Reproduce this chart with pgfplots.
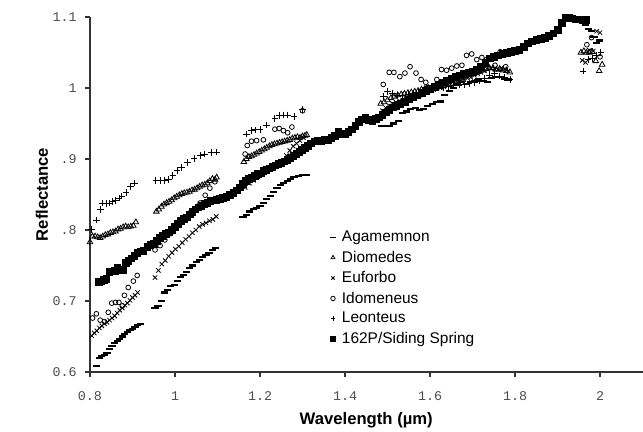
\documentclass[border=0pt]{standalone}
\usepackage{fontspec}
\setmainfont{Liberation Sans}
\newfontfamily\monofont{Liberation Mono}
\usepackage{pgfplots}
\pgfplotsset{compat=1.18}
\pgfplotsset{dashlegend/.style={legend image code/.code={\draw[##1, mark size=2.2pt, mark options={line width=1.2pt}] plot coordinates {(0pt,0pt)}; \path (-2pt,0pt) (5pt,0pt);}}}
\begin{document}
\begin{tikzpicture}
\path[use as bounding box] (-67.5pt,-45pt) rectangle (414.75pt,279pt);
\begin{axis}[
  at={(0pt,0pt)}, anchor=south west,
  scale only axis, width=414.4pt, height=266.25pt,
  xmin=0.8, xmax=2.1, ymin=0.6, ymax=1.1,
  axis x line=bottom, axis y line=left,
  axis line style={-, line width=0.8pt, black!80},
  xtick={0.8,1,1.2,1.4,1.6,1.8,2},
  xticklabels={0.8,1,1.2,1.4,1.6,1.8,2},
  ytick={0.6,0.7,0.8,0.9,1,1.1},
  yticklabels={0.6,0.7,.8,.9,1,1.1},
  tick align=outside, major tick length=3.5pt,
  tick style={black!80, line width=0.8pt},
  ticklabel style={font=\monofont\fontsize{10}{11}\selectfont, text=black!70},
  xticklabel style={yshift=-8pt},
  yticklabel style={xshift=-3pt},
  xlabel={Wavelength (µm)}, ylabel={Reflectance},
  label style={font=\bfseries\fontsize{12.5}{14}\selectfont},
  xlabel style={at={(axis description cs:0.5,-0.135)}, anchor=center},
  ylabel style={at={(axis description cs:-0.087,0.5)}, anchor=center},
  clip=false,
  legend style={draw=none, fill=none, at={(axis description cs:0.434,0.403)}, anchor=north west,
    font=\fontsize{11.6}{13.5}\selectfont, row sep=2.4pt, inner sep=0pt,
    nodes={inner sep=1.5pt}},
  legend cell align=left,
  legend image code/.code={\draw[#1, mark size=1.7pt] plot coordinates {(0pt,0pt)}; \path (-2pt,0pt) (5pt,0pt);},
]
% Agamemnon
\addplot[only marks, mark=-, mark size=2.7pt, mark options={line width=1.6pt}, dashlegend] coordinates {
(0.815,0.609)(0.822,0.620)(0.828,0.622)(0.834,0.624)(0.840,0.627)(0.846,0.632)(0.852,0.637)
(0.858,0.641)(0.864,0.644)(0.870,0.647)(0.876,0.650)(0.882,0.653)(0.888,0.656)(0.894,0.659)
(0.900,0.661)(0.906,0.663)(0.912,0.666)(0.918,0.668)
(0.953,0.690)(0.960,0.693)(0.968,0.700)(0.975,0.712)(0.983,0.716)(0.990,0.721)(0.998,0.723)
(1.005,0.728)(1.012,0.734)(1.020,0.737)(1.027,0.741)(1.035,0.746)(1.042,0.750)(1.050,0.755)
(1.058,0.758)(1.065,0.762)(1.073,0.765)(1.080,0.768)(1.088,0.772)(1.095,0.775)
(1.160,0.818)(1.168,0.821)(1.176,0.826)(1.184,0.830)(1.192,0.831)(1.200,0.834)(1.208,0.838)
(1.216,0.844)(1.224,0.848)(1.232,0.853)(1.240,0.859)(1.248,0.863)(1.256,0.866)(1.264,0.869)
(1.272,0.872)(1.280,0.875)(1.290,0.876)(1.300,0.877)(1.310,0.877)
(1.485,0.947)(1.495,0.946)(1.505,0.946)(1.515,0.950)(1.525,0.953)(1.535,0.965)(1.545,0.967)
(1.555,0.970)(1.565,0.972)(1.575,0.969)(1.585,0.971)(1.595,0.975)(1.605,0.978)(1.615,0.980)
(1.625,0.981)(1.635,0.990)(1.645,0.996)(1.655,1.000)(1.665,1.005)(1.675,1.008)(1.685,1.006)
(1.695,1.008)(1.705,1.010)(1.715,1.012)(1.725,1.010)(1.735,1.009)(1.745,1.014)(1.755,1.016)
(1.765,1.015)(1.775,1.013)(1.785,1.012)
(1.966,1.089)(1.972,1.083)(1.980,1.080)(1.986,1.072)(1.992,1.063)(1.998,1.067)
};
\addlegendentry{Agamemnon}
% Diomedes
\addplot[only marks, mark=triangle, mark size=2.4pt, mark options={line width=0.6pt}] coordinates {
(0.800,0.783)(0.806,0.791)(0.812,0.791)(0.818,0.790)(0.824,0.789)(0.830,0.791)(0.836,0.793)
(0.842,0.794)(0.848,0.796)(0.854,0.797)(0.860,0.798)(0.866,0.801)(0.872,0.802)(0.878,0.804)
(0.884,0.805)(0.890,0.804)(0.896,0.805)(0.902,0.806)(0.908,0.811)
(0.956,0.826)(0.962,0.829)(0.968,0.833)(0.974,0.836)(0.980,0.838)(0.986,0.840)(0.992,0.842)
(0.998,0.845)(1.004,0.847)(1.010,0.849)(1.016,0.851)(1.022,0.852)(1.028,0.853)(1.034,0.854)
(1.040,0.856)(1.046,0.857)(1.052,0.859)(1.058,0.861)(1.064,0.863)(1.070,0.864)(1.076,0.866)
(1.082,0.869)(1.088,0.872)(1.094,0.871)(1.098,0.874)
(1.162,0.896)(1.168,0.900)(1.174,0.903)(1.180,0.904)(1.186,0.906)(1.192,0.908)(1.198,0.910)
(1.204,0.912)(1.210,0.914)(1.216,0.916)(1.222,0.918)(1.228,0.920)(1.234,0.921)(1.240,0.922)
(1.246,0.923)(1.252,0.924)(1.258,0.925)(1.264,0.926)(1.270,0.927)(1.276,0.929)(1.282,0.930)
(1.288,0.931)(1.294,0.930)(1.300,0.932)(1.306,0.933)(1.310,0.934)
(1.484,0.978)(1.492,0.980)(1.500,0.983)(1.508,0.986)(1.516,0.988)(1.524,0.990)(1.532,0.991)
(1.540,0.992)(1.548,0.993)(1.556,0.994)(1.564,0.995)(1.572,0.996)(1.580,0.998)(1.588,0.999)
(1.596,1.000)(1.604,1.001)(1.612,1.003)(1.620,1.004)(1.628,1.006)(1.636,1.008)(1.644,1.009)
(1.652,1.011)(1.660,1.013)(1.668,1.014)(1.676,1.016)(1.684,1.017)(1.692,1.018)(1.700,1.020)
(1.708,1.021)(1.716,1.023)(1.724,1.025)(1.732,1.027)(1.740,1.028)(1.748,1.028)(1.756,1.026)
(1.764,1.027)(1.772,1.025)(1.780,1.024)(1.788,1.022)
(1.955,1.050)(1.962,1.052)(1.968,1.050)(1.975,1.050)(1.982,1.051)(1.990,1.038)(1.998,1.024)(2.005,1.033)
};
\addlegendentry{Diomedes}
% Euforbo
\addplot[only marks, mark=x, mark size=2.3pt, mark options={line width=0.6pt}] coordinates {
(0.804,0.651)(0.810,0.655)(0.816,0.658)(0.822,0.662)(0.828,0.665)(0.834,0.668)(0.840,0.670)
(0.846,0.673)(0.852,0.676)(0.858,0.679)(0.864,0.683)(0.870,0.687)(0.876,0.690)(0.882,0.694)
(0.888,0.697)(0.894,0.701)(0.900,0.705)(0.906,0.708)(0.912,0.712)
(0.953,0.733)(0.961,0.743)(0.969,0.752)(0.977,0.757)(0.985,0.763)(0.993,0.768)(1.001,0.773)
(1.009,0.777)(1.017,0.782)(1.025,0.787)(1.033,0.791)(1.041,0.796)(1.049,0.800)(1.057,0.805)
(1.065,0.808)(1.073,0.810)(1.081,0.813)(1.089,0.815)(1.097,0.819)
(1.165,0.860)(1.175,0.866)(1.185,0.870)(1.195,0.875)(1.205,0.879)(1.215,0.884)(1.225,0.887)
(1.235,0.889)(1.245,0.891)(1.255,0.895)(1.262,0.905)(1.270,0.912)(1.278,0.918)(1.286,0.922)
(1.294,0.926)(1.302,0.930)
(1.488,0.968)(1.496,0.972)(1.504,0.975)(1.512,0.978)(1.520,0.980)(1.528,0.982)(1.536,0.983)
(1.544,0.985)(1.552,0.986)(1.560,0.988)(1.568,0.989)(1.576,0.990)(1.584,0.992)(1.592,0.994)
(1.600,0.996)(1.608,0.998)(1.616,0.999)(1.624,1.000)(1.632,1.002)(1.640,1.004)(1.648,1.005)
(1.656,1.006)(1.664,1.008)(1.672,1.010)(1.680,1.012)(1.688,1.014)(1.696,1.015)(1.704,1.018)
(1.712,1.020)(1.720,1.022)(1.728,1.024)(1.736,1.026)(1.744,1.028)(1.752,1.027)(1.760,1.026)
(1.768,1.028)(1.776,1.027)(1.784,1.024)
(1.958,1.039)(1.966,1.036)(1.975,1.053)(1.984,1.052)(1.992,1.080)(2.000,1.078)
};
\addlegendentry{Euforbo}
% Idomeneus
\addplot[only marks, mark=o, mark size=1.8pt, mark options={line width=0.6pt}] coordinates {
(0.806,0.676)(0.815,0.682)(0.824,0.673)(0.834,0.671)(0.843,0.684)(0.851,0.697)(0.860,0.698)
(0.868,0.698)(0.876,0.693)(0.881,0.708)(0.890,0.719)(0.902,0.728)(0.911,0.736)
(0.953,0.772)(0.965,0.778)(0.976,0.786)(0.990,0.795)(1.005,0.805)(1.020,0.815)(1.035,0.824)
(1.047,0.830)(1.059,0.838)(1.071,0.849)(1.082,0.859)(1.094,0.868)
(1.165,0.907)(1.170,0.919)(1.180,0.925)(1.192,0.926)(1.208,0.927)(1.235,0.942)(1.245,0.943)
(1.255,0.940)(1.265,0.937)(1.275,0.945)(1.300,0.968)
(1.490,1.005)(1.504,1.022)(1.515,1.022)(1.529,1.016)(1.541,1.021)(1.553,1.030)(1.567,1.021)
(1.579,1.012)(1.590,1.008)(1.603,0.998)(1.616,1.012)(1.627,1.026)(1.639,1.025)(1.651,1.028)
(1.663,1.031)(1.675,1.032)(1.686,1.046)(1.698,1.048)(1.710,1.040)(1.722,1.043)(1.733,1.040)
(1.753,1.032)(1.765,1.051)(1.778,1.030)
(1.969,1.061)(1.980,1.071)(2.000,1.044)
};
\addlegendentry{Idomeneus}
% Leonteus
\addplot[only marks, mark=+, mark size=2.5pt, mark options={line width=0.6pt}] coordinates {
(0.804,0.801)(0.816,0.814)(0.824,0.829)(0.830,0.838)(0.838,0.837)(0.845,0.838)(0.853,0.840)
(0.860,0.842)(0.868,0.845)(0.875,0.848)(0.885,0.853)(0.895,0.861)(0.905,0.866)
(0.955,0.870)(0.965,0.870)(0.975,0.870)(0.985,0.871)(0.995,0.877)(1.005,0.884)(1.015,0.888)
(1.030,0.895)(1.045,0.901)(1.060,0.905)(1.070,0.907)(1.085,0.909)(1.098,0.910)
(1.168,0.935)(1.180,0.940)(1.190,0.941)(1.200,0.942)(1.215,0.948)(1.235,0.957)(1.245,0.961)
(1.255,0.962)(1.265,0.962)(1.280,0.960)(1.300,0.970)
(1.490,0.988)(1.500,0.995)(1.512,0.992)(1.524,0.990)(1.536,0.989)(1.548,0.991)(1.560,0.993)
(1.572,0.994)(1.584,0.995)(1.596,0.997)(1.608,0.999)(1.620,1.000)(1.632,1.001)(1.644,1.002)
(1.656,1.003)(1.668,1.004)(1.680,1.005)(1.692,1.006)(1.704,1.008)(1.716,1.010)(1.728,1.014)
(1.740,1.018)(1.752,1.020)(1.764,1.017)(1.776,1.015)(1.788,1.012)
(1.960,1.024)(1.972,1.040)(1.983,1.042)(1.992,1.046)(2.002,1.050)
};
\addlegendentry{Leonteus}
% 162P/Siding Spring
\addplot[only marks, mark=square*, mark size=2.5pt] coordinates {
(0.820,0.727)(0.826,0.728)(0.832,0.730)(0.838,0.731)(0.845,0.741)(0.852,0.742)(0.858,0.743)
(0.864,0.747)(0.870,0.744)(0.877,0.744)(0.884,0.754)(0.890,0.757)(0.897,0.760)(0.904,0.764)
(0.911,0.768)(0.918,0.770)(0.925,0.771)(0.935,0.776)(0.942,0.779)(0.950,0.781)(0.957,0.785)
(0.964,0.789)(0.971,0.792)(0.978,0.795)(0.985,0.797)(0.992,0.800)(0.999,0.805)(1.006,0.809)
(1.013,0.813)(1.020,0.816)(1.027,0.818)(1.034,0.822)(1.041,0.826)(1.048,0.829)(1.055,0.832)
(1.062,0.834)(1.069,0.837)(1.076,0.838)(1.083,0.841)(1.090,0.842)(1.097,0.843)(1.105,0.844)
(1.113,0.845)(1.121,0.847)(1.129,0.850)(1.137,0.852)(1.145,0.856)(1.152,0.860)(1.159,0.865)
(1.166,0.869)(1.173,0.872)(1.180,0.874)(1.187,0.876)(1.194,0.879)(1.201,0.880)(1.208,0.883)
(1.215,0.885)(1.222,0.887)(1.229,0.889)(1.236,0.891)(1.243,0.893)(1.250,0.895)(1.257,0.897)
(1.264,0.899)(1.271,0.902)(1.278,0.905)(1.285,0.907)(1.292,0.910)(1.299,0.913)(1.306,0.916)
(1.313,0.919)(1.320,0.922)(1.328,0.925)(1.336,0.926)(1.344,0.926)(1.352,0.927)(1.360,0.927)
(1.368,0.930)(1.376,0.933)(1.384,0.938)(1.392,0.936)(1.400,0.935)(1.408,0.938)(1.416,0.942)
(1.424,0.947)(1.432,0.952)(1.440,0.956)(1.448,0.958)(1.456,0.955)(1.464,0.954)(1.472,0.957)
(1.480,0.959)(1.488,0.962)(1.496,0.966)(1.504,0.969)(1.512,0.973)(1.520,0.975)(1.530,0.978)
(1.540,0.981)(1.550,0.984)(1.560,0.987)(1.570,0.990)(1.580,0.993)(1.590,0.996)(1.600,0.999)
(1.610,1.002)(1.620,1.005)(1.630,1.008)(1.640,1.011)(1.650,1.013)(1.660,1.016)(1.670,1.018)
(1.680,1.020)(1.690,1.022)(1.700,1.023)(1.710,1.026)(1.720,1.030)(1.730,1.036)(1.740,1.042)
(1.750,1.044)(1.760,1.046)(1.770,1.048)(1.780,1.050)(1.790,1.051)(1.800,1.052)(1.810,1.054)
(1.820,1.058)(1.830,1.063)(1.840,1.066)(1.850,1.068)(1.860,1.069)(1.870,1.071)(1.880,1.074)
(1.890,1.077)(1.900,1.082)(1.910,1.092)(1.918,1.099)(1.926,1.099)(1.934,1.098)(1.942,1.097)
(1.950,1.097)(1.958,1.096)(1.966,1.096)
};
\addlegendentry{162P/Siding Spring}
\end{axis}
\end{tikzpicture}
\end{document}
